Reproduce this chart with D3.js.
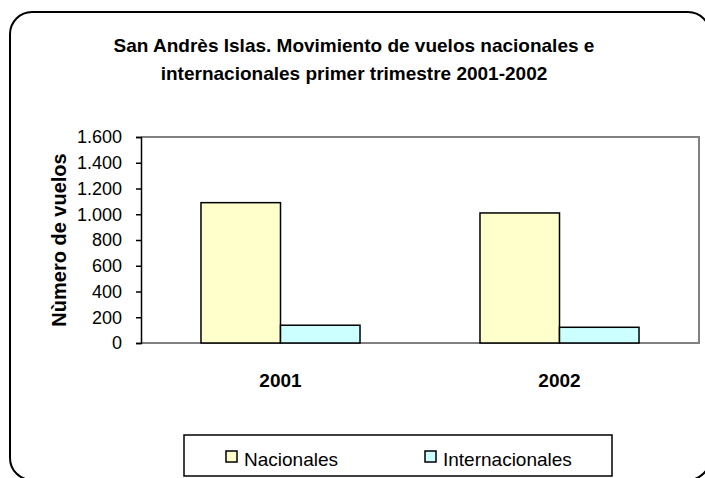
<!DOCTYPE html>
<html>
<head>
<meta charset="utf-8">
<script src="https://cdn.jsdelivr.net/npm/d3@7"></script>
<style>
  body { margin: 0; background: #fff; }
  svg { display: block; font-family: "Liberation Sans", Arial, sans-serif; }
</style>
</head>
<body>
<div id="chart-container"><svg></svg></div>
<script>
// Data
const years = ['2001', '2002'];
const seriesNames = ['Nacionales', 'Internacionales'];
const nacionales = [1090, 1010];
const internacionales = [138, 122];
const yTicks = [0, 200, 400, 600, 800, 1000, 1200, 1400, 1600];

const dataset = years.map((y, i) => ({ year: y, Nacionales: nacionales[i], Internacionales: internacionales[i] }));

const svgWidth = 705;
const svgHeight = 478;
const plot = { left: 141, right: 699, top: 137, bottom: 343 };

const svg = d3.select("#chart-container svg")
    .attr("width", svgWidth)
    .attr("height", svgHeight);

// Outer rounded frame
svg.append("rect")
    .attr("x", 10).attr("y", 12)
    .attr("width", 700).attr("height", 468)
    .attr("rx", 22).attr("ry", 22)
    .attr("fill", "#fff")
    .attr("stroke", "#000")
    .attr("stroke-width", 2);

// Title
const title = svg.append("text")
    .attr("text-anchor", "middle")
    .attr("font-size", 19)
    .attr("font-weight", "bold")
    .attr("fill", "#000");
title.append("tspan").attr("x", 354).attr("y", 52)
    .text("San Andrès Islas. Movimiento de vuelos nacionales e");
title.append("tspan").attr("x", 354).attr("y", 80)
    .text("internacionales primer trimestre 2001-2002");

// Colors
const color = d3.scaleOrdinal()
    .domain(seriesNames)
    .range(['#ffffcc', '#ccffff']);

// Scales
const x0 = d3.scaleBand()
    .domain(years)
    .range([plot.left, plot.right])
    .paddingInner(0.43)
    .paddingOuter(0.215);

const x1 = d3.scaleBand()
    .domain(seriesNames)
    .range([0, x0.bandwidth()]);

const y = d3.scaleLinear()
    .domain([0, 1600])
    .range([plot.bottom, plot.top]);

// Plot area frame (top and right in gray)
svg.append("path")
    .attr("d", `M${plot.left},${plot.top}H${plot.right}V${plot.bottom}H${plot.left}`)
    .attr("fill", "none")
    .attr("stroke", "#808080")
    .attr("stroke-width", 2);

// Bars
const groups = svg.selectAll("g.year")
    .data(dataset)
    .enter()
    .append("g")
    .attr("class", "year")
    .attr("transform", d => `translate(${x0(d.year)},0)`);

groups.selectAll("rect")
    .data(d => seriesNames.map(k => ({ key: k, value: d[k] })))
    .enter()
    .append("rect")
    .attr("x", d => x1(d.key))
    .attr("y", d => y(d.value))
    .attr("width", x1.bandwidth())
    .attr("height", d => y(0) - y(d.value))
    .attr("fill", d => color(d.key))
    .attr("stroke", "#000")
    .attr("stroke-width", 1.5);

// Y axis
const yAxis = svg.append("g")
    .attr("transform", `translate(${plot.left},0)`)
    .call(d3.axisLeft(y)
        .tickValues(yTicks)
        .tickSize(5)
        .tickPadding(14)
        .tickFormat(d => d3.format(",")(d).replace(/,/g, ".")));
yAxis.select(".domain").attr("stroke", "#000").attr("stroke-width", 1.5);
yAxis.selectAll(".tick line").attr("stroke", "#000").attr("stroke-width", 1.5);
yAxis.selectAll(".tick text")
    .attr("font-size", 18)
    .attr("font-family", "Liberation Sans, Arial, sans-serif")
    .attr("fill", "#000");

// X axis labels
const xAxis = svg.append("g")
    .attr("transform", `translate(0,${plot.bottom})`)
    .call(d3.axisBottom(x0).tickSize(0).tickPadding(31));
xAxis.select(".domain").remove();
xAxis.selectAll(".tick text")
    .attr("font-size", 19)
    .attr("font-weight", "bold")
    .attr("font-family", "Liberation Sans, Arial, sans-serif")
    .attr("fill", "#000");

// Y axis title
svg.append("text")
    .attr("transform", `translate(66,${(plot.top + plot.bottom) / 2}) rotate(-90)`)
    .attr("text-anchor", "middle")
    .attr("font-size", 20)
    .attr("font-weight", "bold")
    .text("Nùmero de vuelos");

// Legend
const legend = svg.append("g");
legend.append("rect")
    .attr("x", 184).attr("y", 435)
    .attr("width", 428).attr("height", 41)
    .attr("fill", "#fff")
    .attr("stroke", "#000")
    .attr("stroke-width", 1.5);

const legendX = [226, 425];
seriesNames.forEach((name, i) => {
    legend.append("rect")
        .attr("x", legendX[i]).attr("y", 451)
        .attr("width", 11).attr("height", 11)
        .attr("fill", color(name))
        .attr("stroke", "#000")
        .attr("stroke-width", 1.5);
    legend.append("text")
        .attr("x", legendX[i] + 18).attr("y", 466)
        .attr("font-size", 19)
        .text(name);
});
</script>
</body>
</html>
